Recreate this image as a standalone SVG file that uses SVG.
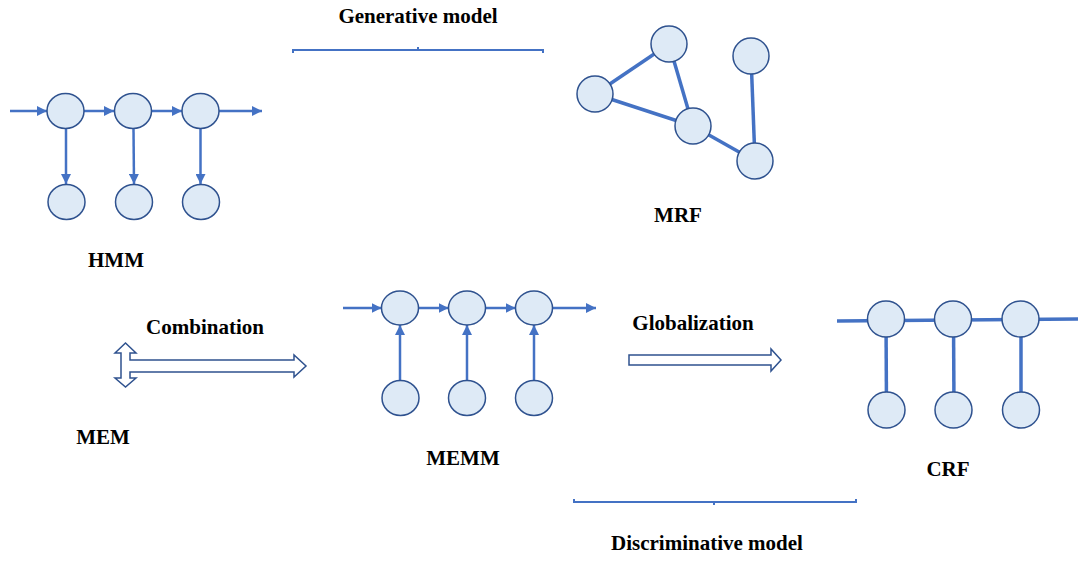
<svg xmlns="http://www.w3.org/2000/svg" width="1078" height="561" viewBox="0 0 1078 561">
<defs>
<style>
.n{fill:#DEEAF6;stroke:#2F528F;stroke-width:1.5}
.e{stroke:#4472C4;stroke-width:2.5;fill:none}
.u{stroke:#4472C4;stroke-width:3.5;fill:none}
.b{stroke:#4472C4;stroke-width:2;fill:none}
.t{font-family:"Liberation Serif","Times New Roman",serif;font-weight:bold;font-size:21px;fill:#000;text-anchor:middle}
.ba{fill:#fff;stroke:#2F528F;stroke-width:1.5}
</style>
<marker id="ah" viewBox="0 0 10 10" refX="10" refY="5" markerWidth="4" markerHeight="4" orient="auto" markerUnits="strokeWidth">
<path d="M0,0 L10,5 L0,10 z" fill="#4472C4"/>
</marker>
</defs>
<rect width="1078" height="561" fill="#fff"/>
<g id="connectors">
<line class="e" x1="10" y1="111" x2="47" y2="111" marker-end="url(#ah)"/>
<line class="e" x1="84" y1="111" x2="114" y2="111" marker-end="url(#ah)"/>
<line class="e" x1="152" y1="111" x2="182" y2="111" marker-end="url(#ah)"/>
<line class="e" x1="219" y1="111" x2="262" y2="111" marker-end="url(#ah)"/>
<line class="e" x1="66" y1="129" x2="66" y2="184" marker-end="url(#ah)"/>
<line class="e" x1="133.5" y1="129" x2="134" y2="184" marker-end="url(#ah)"/>
<line class="e" x1="200.5" y1="129" x2="200.5" y2="184" marker-end="url(#ah)"/>
<line class="u" x1="669" y1="44" x2="595" y2="94"/>
<line class="u" x1="669" y1="44" x2="693" y2="126"/>
<line class="u" x1="595" y1="94" x2="693" y2="126"/>
<line class="u" x1="693" y1="126" x2="755" y2="161"/>
<line class="u" x1="751" y1="56" x2="755" y2="161"/>
<line class="e" x1="343" y1="308" x2="381.5" y2="308" marker-end="url(#ah)"/>
<line class="e" x1="418.5" y1="308" x2="448.5" y2="308" marker-end="url(#ah)"/>
<line class="e" x1="485.5" y1="308" x2="515.5" y2="308" marker-end="url(#ah)"/>
<line class="e" x1="552.5" y1="308" x2="596" y2="308" marker-end="url(#ah)"/>
<line class="e" x1="400" y1="381" x2="400" y2="325" marker-end="url(#ah)"/>
<line class="e" x1="467" y1="381" x2="467" y2="325" marker-end="url(#ah)"/>
<line class="e" x1="534" y1="381" x2="534" y2="325" marker-end="url(#ah)"/>
<line class="u" x1="837" y1="321" x2="1078" y2="319"/>
<line class="u" x1="886" y1="319" x2="886.5" y2="410"/>
<line class="u" x1="953.5" y1="319" x2="954" y2="410"/>
<line class="u" x1="1021" y1="319" x2="1021" y2="410"/>
<path class="b" d="M293,53 L293,50 L543,50 L543,53 M418,50 L418,47"/>
<path class="b" d="M574,499 L574,502 L856,502 L856,499 M714,502 L714,505"/>
<path class="ba" d="M125.5,343 L136,353 L130,353 L130,360 L294,360 L294,355 L306,366 L294,377 L294,372 L130,372 L130,378 L136,378 L125.5,387 L115,378 L121,378 L121,353 L115,353 Z"/>
<path class="ba" d="M629,355 L771,355 L771,349 L781,360 L771,371 L771,365 L629,365 Z"/>
</g>
<g id="hmm">
<ellipse class="n" cx="65.5" cy="111" rx="18.5" ry="17.5"/>
<ellipse class="n" cx="133" cy="111" rx="18.5" ry="17.5"/>
<ellipse class="n" cx="200.5" cy="111" rx="18.5" ry="17.5"/>
<ellipse class="n" cx="66.5" cy="202" rx="18.5" ry="17.5"/>
<ellipse class="n" cx="134" cy="202" rx="18.5" ry="17.5"/>
<ellipse class="n" cx="201" cy="202" rx="18.5" ry="17.5"/>
<text class="t" x="116" y="267">HMM</text>
</g>
<g id="generative">
<text class="t" x="418" y="23">Generative model</text>
</g>
<g id="mrf">
<circle class="n" cx="669" cy="44" r="18"/>
<circle class="n" cx="595" cy="94" r="18"/>
<circle class="n" cx="693" cy="126" r="18"/>
<circle class="n" cx="751" cy="56" r="18"/>
<circle class="n" cx="755" cy="161" r="18"/>
<text class="t" x="678" y="222">MRF</text>
</g>
<g id="combination">
<text class="t" x="205" y="334">Combination</text>
</g>
<g id="mem">
<text class="t" x="103" y="444">MEM</text>
</g>
<g id="memm">
<ellipse class="n" cx="400" cy="308" rx="18.5" ry="17"/>
<ellipse class="n" cx="467" cy="308" rx="18.5" ry="17"/>
<ellipse class="n" cx="534" cy="308" rx="18.5" ry="17"/>
<ellipse class="n" cx="400.5" cy="398" rx="18.5" ry="17.5"/>
<ellipse class="n" cx="467" cy="398" rx="18.5" ry="17.5"/>
<ellipse class="n" cx="534" cy="398" rx="18.5" ry="17.5"/>
<text class="t" x="463" y="465">MEMM</text>
</g>
<g id="globalization">
<text class="t" x="693" y="330">Globalization</text>
</g>
<g id="crf">
<ellipse class="n" cx="886" cy="319" rx="18.5" ry="18"/>
<ellipse class="n" cx="953" cy="319" rx="18.5" ry="18"/>
<ellipse class="n" cx="1020.5" cy="319" rx="18.5" ry="18"/>
<ellipse class="n" cx="886.5" cy="410" rx="18.5" ry="18"/>
<ellipse class="n" cx="953.5" cy="410" rx="18.5" ry="18"/>
<ellipse class="n" cx="1021" cy="410" rx="18.5" ry="18"/>
<text class="t" x="948" y="476">CRF</text>
</g>
<g id="discriminative">
<text class="t" x="707" y="550">Discriminative model</text>
</g>
</svg>
